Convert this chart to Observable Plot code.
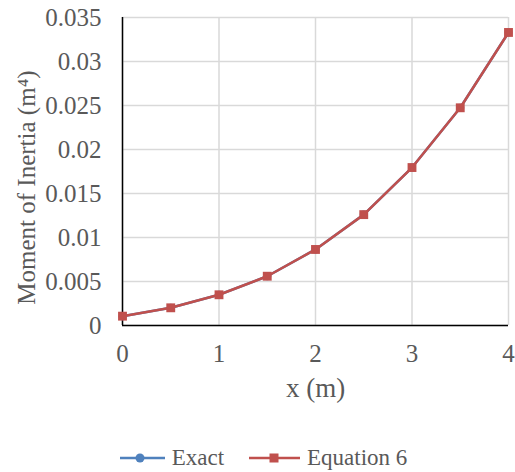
<!DOCTYPE html>
<html><head><meta charset="utf-8">
<script src="https://cdn.jsdelivr.net/npm/d3@7"></script>
<script src="https://cdn.jsdelivr.net/npm/@observablehq/plot@0.6"></script>
<style>
body{margin:0;background:#fff;font-family:"Liberation Serif","Times New Roman",serif;overflow:hidden;}
#chart svg text{font-family:"Liberation Serif","Times New Roman",serif !important;}
#chart g[aria-label="x-axis tick label"], #chart g[aria-label="y-axis tick label"]{font-size:25px !important;}
#chart g[aria-label="x-axis tick label"] text, #chart g[aria-label="y-axis tick label"] text{font-size:25px !important;}
#legend{display:flex;justify-content:center;align-items:center;gap:25px;font-size:23px;line-height:26px;color:#595959;height:28px;margin-left:12px;padding-top:14px;}
#legend span.item{display:flex;align-items:center;gap:7px;}
</style></head><body>
<div id="chart"></div>
<div id="legend"></div>
<script>
const xs = [0, 0.5, 1, 1.5, 2, 2.5, 3, 3.5, 4];
const exact = [0.00106, 0.00201, 0.00349, 0.0056, 0.00864, 0.0126, 0.01795, 0.02474, 0.0333];
const eq6 = [0.00106, 0.00201, 0.00349, 0.0056, 0.00864, 0.0126, 0.01795, 0.02474, 0.0333];
const yTicks = [0, 0.005, 0.01, 0.015, 0.02, 0.025, 0.03, 0.035];
const xTicks = [0, 1, 2, 3, 4];
const seriesNames = ["Exact", "Equation 6"];
const colors = ["#4f81bd", "#c0504d"];

const dExact = xs.map((x,i)=>({x, y: exact[i]}));
const dEq = xs.map((x,i)=>({x, y: eq6[i]}));
const fmtY = d => String(+d.toFixed(3));
const fmtX = d => String(d);

const chart = Plot.plot({
  width: 515, height: 430,
  marginLeft: 122, marginRight: 7, marginTop: 17, marginBottom: 105,
  style: {fontFamily: '"Liberation Serif","Times New Roman",serif', fontSize: "22px", color: "#595959", background: "#fff", overflow: "visible"},
  x: {domain: [0, 4], label: null},
  y: {domain: [0, 0.035], label: null},
  marks: [
    Plot.gridX(xTicks, {stroke: "#d9d9d9", strokeOpacity: 1, strokeWidth: 1.5}),
    Plot.gridY(yTicks, {stroke: "#d9d9d9", strokeOpacity: 1, strokeWidth: 1.5}),
    Plot.axisX({ticks: xTicks, tickSize: 0, tickPadding: 19, fontSize: 25, fill: "#595959", tickFormat: fmtX, label: null}),
    Plot.axisY({ticks: yTicks, tickSize: 0, tickPadding: 21, fontSize: 25, fill: "#595959", tickFormat: fmtY, label: null}),
    Plot.ruleX([0], {stroke: "#000", strokeWidth: 1.5}),
    Plot.ruleY([0], {stroke: "#000", strokeWidth: 1.5}),
    Plot.line(dExact, {x: "x", y: "y", stroke: colors[0], strokeWidth: 2.5}),
    Plot.dot(dExact, {x: "x", y: "y", fill: colors[0], r: 4, symbol: "circle"}),
    Plot.line(dEq, {x: "x", y: "y", stroke: colors[1], strokeWidth: 2.5}),
    Plot.dot(dEq, {x: "x", y: "y", fill: colors[1], r: 5, symbol: "square"}),
    Plot.text(["x (m)"], {frameAnchor: "bottom", dy: 71, fontSize: 27, fill: "#595959", textAnchor: "middle"}),
    Plot.text(["Moment of Inertia (m\u2074)"], {frameAnchor: "left", dx: -96, dy: 16, rotate: -90, fontSize: 25, fill: "#595959", textAnchor: "middle"})
  ]
});
document.getElementById("chart").appendChild(chart);

const leg = document.getElementById("legend");
seriesNames.forEach((name, i) => {
  const item = document.createElement("span");
  item.className = "item";
  const marker = i === 0
    ? `<svg width="45" height="12"><line x1="0" y1="6" x2="45" y2="6" stroke="${colors[i]}" stroke-width="2.5"/><circle cx="20" cy="6" r="4.5" fill="${colors[i]}"/></svg>`
    : `<svg width="51" height="12"><line x1="0" y1="6" x2="51" y2="6" stroke="${colors[i]}" stroke-width="2.5"/><rect x="20.5" y="1.5" width="9" height="9" fill="${colors[i]}"/></svg>`;
  item.innerHTML = marker + `<span>${name}</span>`;
  leg.appendChild(item);
});
</script>
</body></html>
